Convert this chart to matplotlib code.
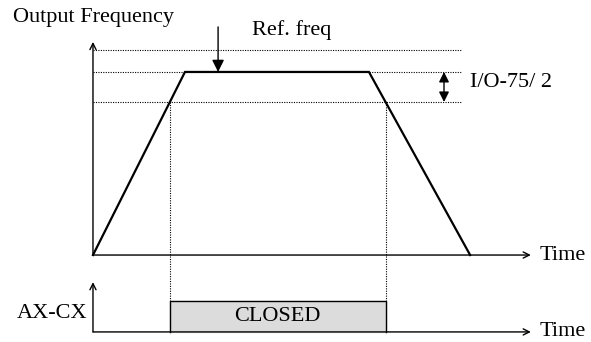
import numpy as np
import matplotlib
matplotlib.use("Agg")
import matplotlib.pyplot as plt

plt.rcParams["font.family"] = ["Liberation Serif", "DejaVu Serif"]

# speed profile (time in s, output frequency in % of ref. freq)
profile_time = [0, 5, 15, 20.5]
profile_freq = [0, 100, 100, 0]
ref_freq = 100
band = 16.4          # I/O-75 detection band
max_freq = 112
relay_base = -42
relay_high = -25.1

# closed window = where freq is above ref_freq - band
lo = ref_freq - band
t_on = np.interp(lo, profile_freq[:2], profile_time[:2])
t_off = np.interp(lo, profile_freq[3:1:-1], profile_time[3:1:-1])

fig = plt.figure(figsize=(5.91, 3.42), dpi=100)
ax = fig.add_axes([0, 0, 1, 1])
ax.set_xlim(-5.054, 27.07)
ax.set_ylim(-47.5, 139.3)
ax.axis("off")

fs = 16
arr = dict(arrowstyle="->", lw=1.0, color="black", shrinkA=0, shrinkB=0,
           mutation_scale=11)

# top chart axes
ax.annotate("", xy=(0, 116.4), xytext=(0, 0), arrowprops=arr)
ax.annotate("", xy=(23.8, 0), xytext=(0, 0), arrowprops=arr)

# dotted reference lines
for yv in [max_freq, ref_freq, lo]:
    ax.plot([0, 20], [yv, yv], color="black", lw=0.8, ls=(0, (1, 1.2)))

# speed profile
ax.plot(profile_time, profile_freq, color="black", lw=1.6,
        solid_joinstyle="miter")

# verticals down to relay
for tv in [t_on, t_off]:
    ax.plot([tv, tv], [lo, relay_high], color="black", lw=0.8,
            ls=(0, (1, 1.2)))

# ref freq arrow
ax.annotate("", xy=(6.8, ref_freq), xytext=(6.8, 124.6),
            arrowprops=dict(arrowstyle="-|>", lw=1.0, color="black",
                            shrinkA=0, shrinkB=0, mutation_scale=18))
# band arrow
ax.annotate("", xy=(19.08, ref_freq), xytext=(19.08, lo),
            arrowprops=dict(arrowstyle="<|-|>", lw=1.0, color="black",
                            shrinkA=0, shrinkB=0, mutation_scale=15))

ax.text(-4.35, 130, "Output Frequency", fontsize=fs, va="center", ha="left")
ax.text(8.64, 123, "Ref. freq", fontsize=fs, va="center", ha="left")
ax.text(20.5, 94, "I/O-75/ 2", fontsize=fs, va="center", ha="left")
ax.text(24.3, 0, "Time", fontsize=fs, va="center", ha="left")

# relay chart
ax.fill_between([t_on, t_off], relay_base, relay_high, color="#dcdcdc",
                zorder=1)
ax.plot([t_on, t_on, t_off, t_off], [relay_base, relay_high, relay_high,
        relay_base], color="black", lw=1.0, zorder=2)
ax.annotate("", xy=(0, -14.8), xytext=(0, relay_base), arrowprops=arr)
ax.annotate("", xy=(23.8, relay_base), xytext=(0, relay_base), arrowprops=arr)
ax.text((t_on + t_off) / 2, (relay_base + relay_high) / 2, "CLOSED",
        fontsize=fs, ha="center", va="center")
ax.text(-0.33, -31.7, "AX-CX", fontsize=fs, ha="right", va="center")
ax.text(24.3, relay_base, "Time", fontsize=fs, va="center", ha="left")

fig.savefig("out.png", dpi=100)
